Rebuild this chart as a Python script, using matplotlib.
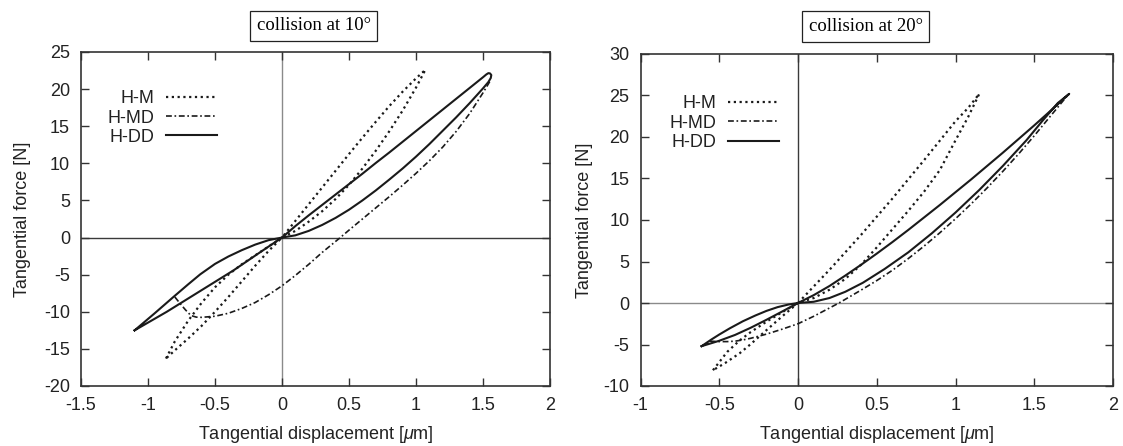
import matplotlib
matplotlib.use("Agg")
import matplotlib.pyplot as plt
from matplotlib.ticker import MultipleLocator, FuncFormatter

plt.rcParams['font.family'] = ['Liberation Sans', 'DejaVu Sans']
plt.rcParams['mathtext.fontset'] = 'custom'
plt.rcParams['mathtext.it'] = 'Liberation Sans:italic'
plt.rcParams['mathtext.rm'] = 'Liberation Sans'
plt.rcParams['axes.unicode_minus'] = False

titles = ["collision at 10°", "collision at 20°"]
series_names = ["H-M", "H-MD", "H-DD"]
xlabel = r"Tangential displacement [$\mu$m]"
ylabel = "Tangential force [N]"

# ---------------- data: collision at 10 deg ----------------
# H-M (dotted)
l_hm_x = [-0.866, -0.8, -0.7, -0.6, -0.5, -0.4, -0.3, -0.2, -0.1, 0.0,
          0.1, 0.2, 0.3, 0.4, 0.5, 0.6, 0.7, 0.8, 0.9, 1.0, 1.07,
          1.0, 0.9, 0.8, 0.7, 0.6, 0.5, 0.4, 0.3, 0.2, 0.1, 0.0,
          -0.1, -0.2, -0.3, -0.4, -0.5, -0.6, -0.7, -0.8, -0.866]
l_hm_y = [-16.3, -14.0, -11.2, -8.8, -6.7, -5.0, -3.6, -2.4, -1.2, 0.0,
          2.25, 4.5, 6.75, 9.0, 11.25, 13.45, 15.6, 17.7, 19.65, 21.45, 22.6,
          20.2, 17.1, 14.3, 11.7, 9.3, 7.1, 5.2, 3.55, 2.15, 0.9, 0.0,
          -1.8, -3.8, -5.9, -8.0, -10.0, -11.9, -13.6, -15.2, -16.3]
# H-MD (dash-dot)
l_hmd_x = [-0.80, -0.76, -0.72, -0.68, -0.64, -0.6, -0.5, -0.4, -0.3, -0.2, -0.1, 0.0,
           0.1, 0.2, 0.3, 0.435, 0.5, 0.6, 0.7, 0.8, 0.9, 1.0, 1.1, 1.2, 1.3, 1.4, 1.5, 1.55]
l_hmd_y = [-8.0, -8.9, -9.75, -10.5, -10.72, -10.75, -10.6, -10.2, -9.55, -8.75, -7.7, -6.5,
           -5.1, -3.6, -2.0, 0.0, 1.0, 2.5, 4.0, 5.5, 7.05, 8.65, 10.35, 12.2, 14.3, 16.7,
           19.5, 21.0]
# H-DD (solid)
l_hdd_x = [-1.10, -0.95, -0.81, -0.70, -0.61, -0.5, -0.4, -0.3, -0.2, -0.1, 0.0,
           0.1, 0.2, 0.3, 0.4, 0.5, 0.6, 0.7, 0.8, 0.9, 1.0, 1.1, 1.2, 1.3, 1.4, 1.5,
           1.54, 1.558, 1.562, 1.552, 1.54, 1.525,
           1.5, 1.4, 1.3, 1.2, 1.1, 1.0, 0.9, 0.8, 0.7, 0.6, 0.5, 0.4, 0.3, 0.2, 0.1, 0.0,
           -0.16, -0.36, -0.61, -0.86, -1.10]
l_hdd_y = [-12.5, -10.2, -8.0, -6.3, -4.95, -3.55, -2.55, -1.7, -0.95, -0.35, 0.0,
           0.3, 0.9, 1.7, 2.65, 3.75, 5.0, 6.35, 7.8, 9.3, 10.9, 12.6, 14.4, 16.2, 18.1, 20.1,
           20.95, 21.5, 21.9, 22.12, 22.15, 21.98,
           21.6, 20.15, 18.7, 17.25, 15.8, 14.35, 12.9, 11.45, 10.05, 8.6, 7.2, 5.8, 4.4, 3.0,
           1.55, 0.0,
           -1.94, -4.4, -7.2, -10.0, -12.5]

# ---------------- data: collision at 20 deg ----------------
r_hm_x = [-0.54, -0.45, -0.37, -0.3, -0.2, -0.1, 0.0,
          0.2, 0.4, 0.6, 0.8, 1.0, 1.08, 1.151,
          1.08, 1.0, 0.9, 0.8, 0.7, 0.6, 0.5, 0.4, 0.3, 0.2, 0.1, 0.0,
          -0.1, -0.22, -0.3, -0.37, -0.46, -0.54]
r_hm_y = [-8.1, -5.9, -4.5, -3.5, -2.25, -1.1, 0.0,
          4.0, 8.2, 12.6, 17.2, 21.9, 23.5, 25.2,
          22.4, 19.6, 16.0, 13.4, 11.1, 8.9, 6.7, 4.6, 2.9, 1.6, 0.6, 0.0,
          -1.6, -3.6, -4.95, -6.05, -7.2, -8.1]
r_hmd_x = [-0.56, -0.5, -0.45, -0.4, -0.35, -0.3, -0.2, -0.1, 0.0, 0.1, 0.2, 0.26, 0.4, 0.5,
           0.6, 0.7, 0.8, 0.9, 1.0, 1.1, 1.2, 1.3, 1.4, 1.5, 1.6, 1.72]
r_hmd_y = [-4.6, -4.65, -4.65, -4.6, -4.45, -4.25, -3.75, -3.15, -2.5, -1.6, -0.6, 0.0, 1.55,
           2.7, 3.95, 5.35, 6.85, 8.45, 10.15, 11.95, 13.85, 15.85, 17.95, 20.15, 22.45, 25.2]
r_hdd_x = [-0.612, -0.55, -0.5, -0.433, -0.35, -0.27, -0.2, -0.13, -0.06, 0.0,
           0.1, 0.2, 0.3, 0.412, 0.55, 0.7, 0.85, 1.0, 1.15, 1.3, 1.45, 1.55, 1.65, 1.722,
           1.65, 1.6, 1.5, 1.4, 1.3, 1.2, 1.1, 1.0, 0.9, 0.8, 0.7, 0.6, 0.5, 0.4, 0.3, 0.2,
           0.1, 0.0,
           -0.1, -0.2, -0.3, -0.4, -0.5, -0.56, -0.612]
r_hdd_y = [-5.2, -4.4, -3.8, -3.05, -2.2, -1.5, -0.95, -0.5, -0.18, 0.0,
           0.15, 0.6, 1.35, 2.44, 4.1, 6.1, 8.4, 10.9, 13.6, 16.5, 19.6, 21.9, 24.1, 25.2,
           23.95, 23.1, 21.4, 19.75, 18.1, 16.5, 14.9, 13.35, 11.8, 10.3, 8.8, 7.35, 5.95, 4.6,
           3.3, 2.05, 0.95, 0.0,
           -1.02, -2.02, -2.98, -3.85, -4.55, -4.9, -5.2]

panels = [
    dict(data=[(l_hm_x, l_hm_y), (l_hmd_x, l_hmd_y), (l_hdd_x, l_hdd_y)],
         xlim=(-1.5, 2), ylim=(-20, 25), vcol='#8a8a8a', hcol='#3a3a3a',
         rect=[81/1123, 1-386/446, (550-81)/1123, (386-52)/446],
         tx=0.496, ty=1.079, leg=(0.289, 0.885), ylc=-0.107),
    dict(data=[(r_hm_x, r_hm_y), (r_hmd_x, r_hmd_y), (r_hdd_x, r_hdd_y)],
         xlim=(-1, 2), ylim=(-10, 30), vcol='#3a3a3a', hcol='#8a8a8a',
         rect=[640.5/1123, 1-386/446, (1113-640.5)/1123, (386-54)/446],
         tx=0.477, ty=1.083, leg=(0.293, 0.875), ylc=-0.100),
]

styles = [dict(ls=(0, (1, 1.6)), lw=1.6), dict(ls=(0, (3.5, 1.6, 1, 1.6)), lw=1.2),
          dict(ls='-', lw=1.5)]

fig = plt.figure(figsize=(11.23, 4.46), dpi=100)
fmt = FuncFormatter(lambda v, p: "%g" % v)
for p, title in zip(panels, titles):
    ax = fig.add_axes(p['rect'])
    ax.axvline(0, color=p['vcol'], lw=1.0, zorder=1)
    ax.axhline(0, color=p['hcol'], lw=1.0, zorder=1)
    for (xs, ys), st, name in zip(p['data'], styles, series_names):
        ax.plot(xs, ys, color='#1a1a1a', linestyle=st['ls'], lw=st['lw'], label=name,
                zorder=3, solid_joinstyle='round')
    ax.set_xlim(*p['xlim'])
    ax.set_ylim(*p['ylim'])
    ax.xaxis.set_major_locator(MultipleLocator(0.5))
    ax.yaxis.set_major_locator(MultipleLocator(5))
    ax.xaxis.set_major_formatter(fmt)
    ax.yaxis.set_major_formatter(fmt)
    ax.tick_params(direction='in', top=True, right=True, length=6, width=1.0,
                   labelsize=13, colors='#333333', labelcolor='#222222')
    ax.tick_params(axis='x', pad=8)
    ax.tick_params(axis='y', pad=8)
    for s in ax.spines.values():
        s.set_color('#333333')
        s.set_linewidth(1.2)
    ax.set_xlabel(xlabel, fontsize=13, color='#222222')
    ax.set_ylabel(ylabel, fontsize=13, color='#222222')
    ax.xaxis.set_label_coords(0.5, -0.115)
    ax.yaxis.set_label_coords(p['ylc'], 0.5)
    ax.text(p['tx'], p['ty'], title, transform=ax.transAxes, ha='center', va='center',
            fontsize=13.5, family=['Liberation Serif'],
            bbox=dict(boxstyle='square,pad=0.35', fc='white', ec='#222222', lw=0.9))
    leg = ax.legend(loc='upper right', bbox_to_anchor=p['leg'], frameon=False,
                    markerfirst=False, fontsize=13, handlelength=2.8,
                    handletextpad=0.65, labelspacing=0.12, borderpad=0,
                    borderaxespad=0)
    for t in leg.get_texts():
        t.set_color('#222222')

fig.savefig("out.png", dpi=100)
